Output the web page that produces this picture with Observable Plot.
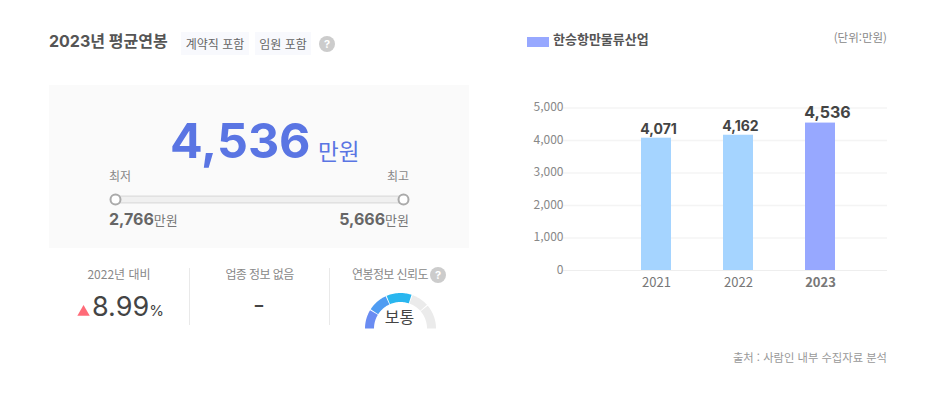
<!DOCTYPE html>
<html lang="ko"><head><meta charset="utf-8">
<script src="https://cdn.jsdelivr.net/npm/d3@7"></script>
<script src="https://cdn.jsdelivr.net/npm/@observablehq/plot@0.6"></script>
<style>
html,body{margin:0;padding:0;background:#fff}
#page{position:relative;width:945px;height:411px;overflow:hidden;font-family:Inter,"Noto Sans CJK KR",sans-serif;color:#666}
#page>*{position:absolute}
.t{white-space:nowrap;line-height:1;font-family:"Noto Sans CJK KR",sans-serif}
.n{font-family:Inter,"Noto Sans CJK KR",sans-serif}
svg{display:block;overflow:visible;background:transparent!important}
.q{width:16px;height:16px;border-radius:50%;background:#ccc;color:#fff;font:bold 11px/16px Inter,sans-serif;text-align:center}
</style></head><body><div id="page"></div>
<script>
const years = ["2021", "2022", "2023"];
const salaries = [4071, 4162, 4536];
const barColors = ["#a5d4ff", "#a5d4ff", "#97a8ff"];
const yTicks = [0, 1000, 2000, 3000, 4000, 5000];
const rangeValues = [2766, 5666];
const gaugeStops = [0, 32, 66, 109, 139, 180];
const gaugeColors = ["#6a8cf2", "#4f9cf2", "#29b6ef", "#ebebeb", "#ebebeb"];
const page = document.getElementById("page");
const fmt = d3.format(",");
const FONT = '"Noto Sans CJK KR",sans-serif';

function txt(s, o) {
  const e = document.createElement("div");
  e.className = "t " + (o.cls || "");
  e.innerHTML = s;
  const st = e.style;
  st.fontSize = o.size + "px"; st.color = o.color || "#666"; st.fontWeight = o.w || 400;
  st.top = (o.cy - o.size / 2) + "px";
  if (o.ls) st.letterSpacing = o.ls + "px";
  if (o.left != null) st.left = o.left + "px";
  if (o.right != null) st.right = (945 - o.right) + "px";
  if (o.center != null) { st.left = o.center + "px"; st.transform = "translateX(-50%)"; }
  page.append(e);
  return e;
}
function box(l, t, w, h, bg) {
  const e = document.createElement("div");
  Object.assign(e.style, {left: l + "px", top: t + "px", width: w + "px", height: h + "px", background: bg});
  page.append(e); return e;
}
function place(svg, l, t) { svg.style.position = "absolute"; svg.style.left = l + "px"; svg.style.top = t + "px"; page.append(svg); }
function help(cx, cy) { const e = box(cx - 8, cy - 8, 16, 16, "#ccc"); e.className = "q"; e.textContent = "?"; }

// Left header
txt("2023년 평균연봉", {cls: "n", left: 49, cy: 41, size: 16, w: 700, color: "#555"});
box(181, 32, 68, 23, "#f8f9fd"); box(255, 32, 56, 23, "#f8f9fd");
txt("계약직 포함", {center: 215, cy: 43.5, size: 12, color: "#666"});
txt("임원 포함", {center: 283, cy: 43.5, size: 12, color: "#666"});
help(327, 44);

// Summary panel
box(49, 85, 420, 163, "#fafafa");
txt("4,536", {cls: "n", left: 170, cy: 141, size: 48.4, w: 700, color: "#5a75e3"});
txt("만원", {left: 318, cy: 150, size: 22.5, color: "#5a75e3"});
txt("최저", {left: 109, cy: 176, size: 12, color: "#888"});
txt("최고", {right: 409, cy: 176, size: 12, color: "#888"});
txt('<span class="n" style="font-size:16px;font-weight:700">' + fmt(rangeValues[0]) + '</span><span style="font-size:13px;color:#777">만원</span>', {left: 109, cy: 218, size: 16});
txt('<span class="n" style="font-size:16px;font-weight:700">' + fmt(rangeValues[1]) + '</span><span style="font-size:13px;color:#777">만원</span>', {right: 409, cy: 218, size: 16});

// Range slider
place(Plot.plot({
  width: 320, height: 24, margin: 0, axis: null,
  x: {domain: rangeValues, range: [16, 304]},
  y: {domain: [0, 1], range: [12, 12]},
  marks: [
    Plot.ruleY([0], {x1: rangeValues[0], x2: rangeValues[1], stroke: "#dcdcdc", strokeWidth: 8}),
    Plot.ruleY([0], {x1: rangeValues[0], x2: rangeValues[1], stroke: "#f0f0f0", strokeWidth: 5.5}),
    Plot.dot(rangeValues, {x: d => d, y: () => 0, r: 5, fill: "#fff", stroke: "#aaa", strokeWidth: 2})
  ]
}), 99, 187);

// Lower stats
txt("2022년 대비", {center: 119, cy: 274, size: 12, color: "#888"});
place(Plot.plot({
  width: 16, height: 14, margin: 0, axis: null,
  x: {domain: [0, 1], range: [0, 16]}, y: {domain: [0, 1], range: [14, 0]},
  marks: [Plot.dot([0], {x: () => .44, y: () => .45, symbol: "triangle", r: 4.6, fill: "#ff6b78", stroke: "none"})]
}), 75.5, 303.5);
txt('8.99<span style="font-size:15px;margin-left:0">%</span>', {cls: "n", left: 92, cy: 306, size: 27, color: "#444"});
box(189, 268, 1, 57, "#e9e9e9"); box(329, 268, 1, 57, "#e9e9e9");
txt("업종 정보 없음", {center: 259.5, cy: 274, size: 12, color: "#888", ls: -0.6});
txt("-", {cls: "n", center: 259, cy: 305, size: 26, color: "#444"});
txt("연봉정보 신뢰도", {left: 352, cy: 274, size: 12, color: "#888", ls: -0.6});
help(438, 275);

// Gauge
const gap = 0.8, rMid = 31;
const gaugeData = gaugeColors.flatMap((c, i) =>
  d3.range(gaugeStops[i] + (i ? gap : 0), gaugeStops[i + 1] - gap + .01, 2).concat(gaugeStops[i + 1] - (i < 4 ? gap : 0))
    .map(a => ({seg: i, c, a})));
place(Plot.plot({
  width: 80, height: 40, margin: 0, axis: null,
  x: {domain: [-40, 40], range: [0, 80]},
  y: {domain: [0, 40], range: [40, 0]},
  color: {type: "identity"},
  marks: [Plot.line(gaugeData, {
    x: d => -rMid * Math.cos(d.a * Math.PI / 180),
    y: d => rMid * Math.sin(d.a * Math.PI / 180),
    z: "seg", stroke: "c", strokeWidth: 9, curve: "linear", strokeLinecap: "butt"
  })]
}), 359.5, 287.5);
txt("보통", {center: 399.5, cy: 316, size: 16, color: "#444"});

// Right header
box(527, 37, 22, 10, "#97a8ff");
txt("한승항만물류산업", {left: 553, cy: 38.5, size: 13, w: 700, color: "#555"});
txt("(단위:만원)", {right: 887, cy: 38, size: 11.5, color: "#888"});
txt("출처 : 사람인 내부 수집자료 분석", {right: 887, cy: 357.5, size: 11.3, color: "#999"});

// Bar chart
const table = years.map((year, i) => ({year, salary: salaries[i], color: barColors[i]}));
place(Plot.plot({
  width: 445, height: 411,
  marginLeft: 63, marginRight: 58, marginTop: 107.5, marginBottom: 141,
  style: {fontFamily: FONT, background: "transparent"},
  x: {type: "band", domain: years, range: [89.5, 387.5], padding: 0.634, label: null},
  y: {domain: [0, 5000], label: null},
  color: {type: "identity"},
  marks: [
    Plot.ruleY(yTicks.slice(1), {stroke: "#f4f4f4", strokeWidth: 1.5}),
    Plot.ruleY([0], {stroke: "#eeeeee", strokeWidth: 1.2}),
    Plot.axisY(yTicks, {anchor: "left", tickSize: 0, tickPadding: 0, tickFormat: fmt, fontSize: 12, fill: "#888", label: null, dy: -0.7}),
    Plot.barY(table, {x: "year", y: "salary", fill: "color"}),
    Plot.axisX(years.slice(0, 2), {anchor: "bottom", tickSize: 0, tickPadding: 7, fontSize: 13, fill: "#777", label: null}),
    Plot.axisX(years.slice(2), {anchor: "bottom", tickSize: 0, tickPadding: 7, fontSize: 13, fontWeight: 700, fill: "#777", label: null}),
    Plot.text(table.slice(0, 2), {x: "year", y: "salary", text: d => fmt(d.salary), dx: 2, dy: -9, fontSize: 14, fontWeight: 700, fill: "#444", fontFamily: "Inter"}),
    Plot.text(table.slice(2), {x: "year", y: "salary", text: d => fmt(d.salary), dx: 7, dy: -10.5, fontSize: 16, fontWeight: 700, fill: "#444", fontFamily: "Inter"})
  ]
}), 500, 0);
</script></body></html>
